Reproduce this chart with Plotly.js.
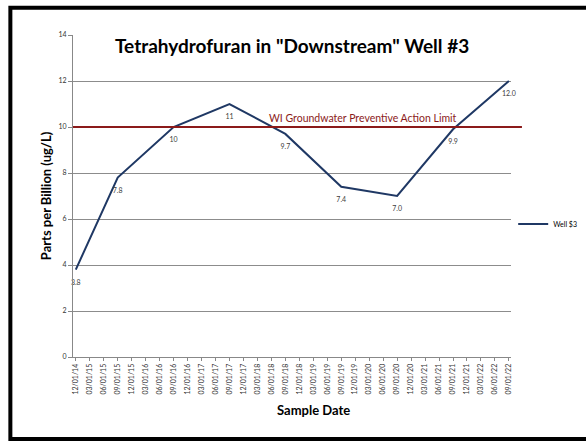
<!DOCTYPE html>
<html>
<head>
<meta charset="utf-8">
<script src="https://cdn.plot.ly/plotly-3.0.1.min.js"></script>
<style>html,body{margin:0;padding:0;background:#fff;}#chart{width:586px;height:441px;}</style>
</head>
<body>
<div id="chart"></div>
<script>
const sampleDates = ["12/01/14","03/01/15","06/01/15","09/01/15","12/01/15","03/01/16","06/01/16","09/01/16","12/01/16","03/01/17","06/01/17","09/01/17","12/01/17","03/01/18","06/01/18","09/01/18","12/01/18","03/01/19","06/01/19","09/01/19","12/01/19","03/01/20","06/01/20","09/01/20","12/01/20","03/01/21","06/01/21","09/01/21","12/01/21","03/01/22","06/01/22","09/01/22"];
const measuredDates = ["12/01/14","09/01/15","09/01/16","09/01/17","09/01/18","09/01/19","09/01/20","09/01/21","09/01/22"];
const well3Values = [3.8, 7.8, 10, 11, 9.7, 7.4, 7.0, 9.9, 12.0];
const well3Labels = ["3.8","7.8","10","11","9.7","7.4","7.0","9.9","12.0"];
const limitValue = 10;
const limitLabel = "WI Groundwater Preventive Action Limit";
const seriesName = "Well $3";
const yTicks = [0, 2, 4, 6, 8, 10, 12, 14];

const FONT = "Lato, 'Open Sans', sans-serif";

const trace = {
  x: measuredDates,
  y: well3Values,
  type: "scatter",
  mode: "lines+markers+text",
  name: seriesName,
  text: well3Labels,
  textposition: "bottom center",
  textfont: {family: FONT, size: 7, color: "#404040"},
  line: {color: "#1F3864", width: 2},
  marker: {size: 14, color: "rgba(0,0,0,0)"},
  cliponaxis: false
};

const layout = {
  width: 586, height: 441,
  margin: {l: 73, r: 75, t: 35, b: 84, autoexpand: false},
  paper_bgcolor: "#ffffff",
  plot_bgcolor: "#ffffff",
  font: {family: FONT, color: "#000"},
  showlegend: true,
  legend: {x: 1.005, y: 0.413, xanchor: "left", yanchor: "middle", font: {family: FONT, size: 7, color: "#000"}, itemwidth: 30, bgcolor: "rgba(0,0,0,0)", tracegroupgap: 0},
  xaxis: {
    type: "category",
    categoryorder: "array",
    categoryarray: sampleDates,
    tickvals: sampleDates,
    ticktext: sampleDates,
    range: [-0.2, 31.15],
    tickangle: -90,
    tickfont: {family: FONT, size: 7, color: "#333"},
    showgrid: false,
    showline: true, linecolor: "#888", linewidth: 1,
    ticks: "outside", ticklen: 3, tickcolor: "#888",
    zeroline: false,
    fixedrange: true
  },
  yaxis: {
    range: [0, 14],
    tickvals: yTicks,
    tickfont: {family: FONT, size: 7, color: "#333"},
    showgrid: true, gridcolor: "#8c8c8c", gridwidth: 1,
    showline: true, linecolor: "#888", linewidth: 1,
    ticks: "outside", ticklen: 4, tickcolor: "#888",
    zeroline: false,
    title: {text: "Parts per Billion (ug/L)", font: {family: FONT, size: 13, color: "#000", weight: "bold"}, standoff: 3}
  },
  shapes: [
    {type: "line", xref: "paper", yref: "y", x0: 0, x1: 1.025, y0: limitValue, y1: limitValue, line: {color: "#8B1A1A", width: 2}, layer: "above"},
    {type: "rect", xref: "paper", yref: "paper", x0: -0.143, x1: 1.3, y0: -0.255, y1: 1.085, line: {color: "#000", width: 4}, fillcolor: "rgba(0,0,0,0)"}
  ],
  annotations: [
    {text: "<b>Tetrahydrofuran in \"Downstream\" Well #3</b>", xref: "paper", yref: "paper", x: 0.5, y: 0.968, xanchor: "center", yanchor: "middle", showarrow: false, font: {family: FONT, size: 19, color: "#000"}},
    {text: limitLabel, xref: "paper", yref: "y", x: 0.662, y: limitValue, xanchor: "center", yanchor: "bottom", yshift: 1, showarrow: false, font: {family: FONT, size: 10.5, color: "#8B1A1A"}},
    {text: "<b>Sample Date</b>", xref: "paper", yref: "paper", x: 0.55, y: -0.165, xanchor: "center", yanchor: "middle", showarrow: false, font: {family: FONT, size: 13, color: "#000"}}
  ]
};

Plotly.newPlot("chart", [trace], layout, {displayModeBar: false, staticPlot: true});
</script>
</body>
</html>
